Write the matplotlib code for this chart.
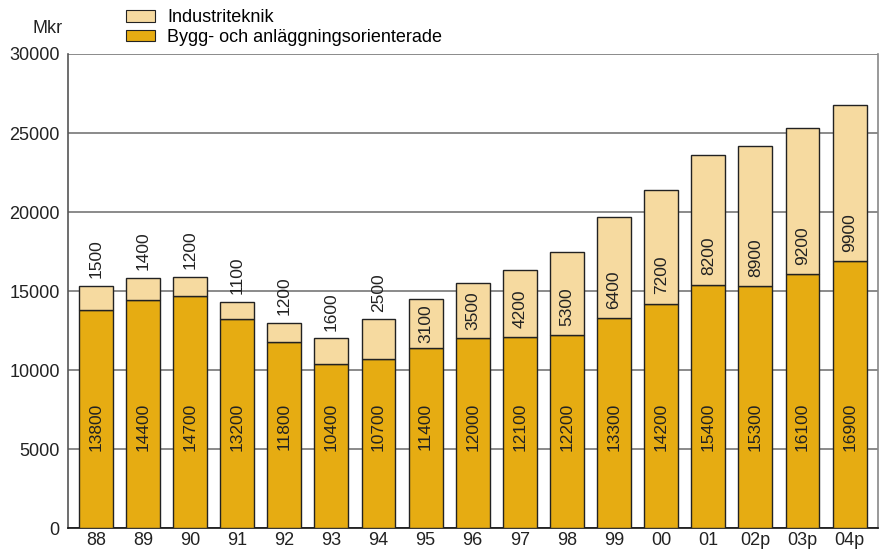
import matplotlib.pyplot as plt
from matplotlib.patches import Patch

plt.rcParams['font.family'] = ['Liberation Sans', 'DejaVu Sans']

# data (Mkr)
ar = ['88', '89', '90', '91', '92', '93', '94', '95', '96', '97', '98',
      '99', '00', '01', '02p', '03p', '04p']
bygg = [13800, 14400, 14700, 13200, 11800, 10400, 10700, 11400, 12000, 12100,
        12200, 13300, 14200, 15400, 15300, 16100, 16900]
industri = [1500, 1400, 1200, 1100, 1200, 1600, 2500, 3100, 3500, 4200,
            5300, 6400, 7200, 8200, 8900, 9200, 9900]

farg_bygg = '#E6AC12'
farg_ind = '#F6DAA0'
tekst = '#222222'

fig = plt.figure(figsize=(8.85, 5.51), dpi=100)
ax = fig.add_axes([0.0768, 0.0417, 0.9152, 0.8603])

x = list(range(len(ar)))
ax.bar(x, bygg, width=0.72, color=farg_bygg, edgecolor='#222222', linewidth=1.0, zorder=3)
ax.bar(x, industri, width=0.72, bottom=bygg, color=farg_ind, edgecolor='#222222',
       linewidth=1.0, zorder=3)

# etykiety
for i in x:
    ax.text(i, 6400, str(bygg[i]), rotation=90, ha='center', va='center',
            fontsize=12.5, color=tekst, zorder=4)
    h = industri[i]
    if h < 3000:
        ax.text(i, bygg[i] + h + 500, str(h), rotation=90, ha='center', va='bottom',
                fontsize=12.5, color=tekst, zorder=4)
    else:
        ax.text(i, bygg[i] + min(h / 2, 1800), str(h), rotation=90, ha='center',
                va='center', fontsize=12.5, color=tekst, zorder=4)

ax.set_xlim(-0.59, 16.6)
ax.set_ylim(0, 30000)
ax.set_yticks(range(0, 30001, 5000))
ax.set_xticks(x)
ax.set_xticklabels(ar)
ax.tick_params(axis='both', length=0, labelsize=13, colors=tekst)
ax.tick_params(axis='y', pad=6)
ax.tick_params(axis='x', pad=3)
ax.grid(axis='y', color='#777777', linewidth=1.2, zorder=0)
ax.set_axisbelow(True)

ax.spines['top'].set_visible(False)
ax.spines['left'].set_color('#555555')
ax.spines['right'].set_color('#888888')
ax.spines['bottom'].set_color('#111111')
for s in ax.spines.values():
    s.set_linewidth(1.2)

fig.text(0.0705, 0.948, 'Mkr', fontsize=13, ha='right', va='center', color=tekst)

uchwyty = [Patch(facecolor=farg_ind, edgecolor='#222222', linewidth=0.8),
           Patch(facecolor=farg_bygg, edgecolor='#222222', linewidth=0.8)]
fig.legend(uchwyty, ['Industriteknik', 'Bygg- och anläggningsorienterade'],
           loc='upper left', bbox_to_anchor=(0.142, 0.983), frameon=False,
           fontsize=13, handlelength=1.6, handleheight=0.6, handletextpad=0.7,
           labelspacing=0.15, borderaxespad=0, borderpad=0)

fig.savefig('out.png', dpi=100)
